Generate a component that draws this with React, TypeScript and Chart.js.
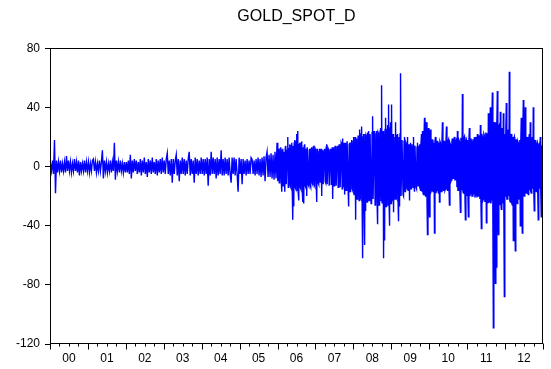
import { useEffect, useRef } from 'react';
import { Chart, registerables } from 'chart.js';

Chart.register(...registerables);

const chartTitle = 'GOLD_SPOT_D';
const years = [2000, 2001, 2002, 2003, 2004, 2005, 2006, 2007, 2008, 2009, 2010, 2011, 2012];
const xLabels = ['00', '01', '02', '03', '04', '05', '06', '07', '08', '09', '10', '11', '12'];
const yTicks = [80, 40, 0, -40, -80, -120];

// Daily changes (per year, spread evenly over that year)
const y2000 = [2, -3, 4, -5, 18, -18, 4, -4, 3, -3, 4, -4, 2, -3, 3, -4, 7, -3, 4, -3, 3, -4, 2, -3, 5, -3, 3, -4, 4, -6, 3, -3, 2, -3, 4, -4, 3, -3];
const y2001 = [3, -4, 2, -3, 4, 5, -3, 3, -4, 2, -3, 4, -3, 3, 11, -8, 4, -3, 3, -4, 2, -3, 4, -4, 3, -3, 16, -9, 4, -3, 3, -4, 4, -3, 2, -4, 3, -4];
const y2002 = [3, -4, 4, -5, 8, -8, 4, -4, 5, -3, 4, -5, 3, -4, 5, -6, 4, -4, 6, -5, 3, -7, 5, -4, 4, -5, 6, -4, 3, -5, 5, -6, 4, -4, 5, -5, 6, -4];
const y2003 = [4, -5, 5, 9, -5, 4, -6, 5, -11, 5, -5, 4, 8, -6, 5, -10, 4, -5, 6, -5, 5, -6, 4, -5, 5, 10, -6, 5, -5, 4, -11, 6, -5, 5, -6, 4, -5, 6];
const y2004 = [-5, 5, -6, 5, -5, 6, -13, 5, -6, 10, -5, 6, -5, 5, -8, 6, -6, 5, -5, 11, -6, 5, -6, 6, -5, 5, -6, 6, -5, -11, 6, -5, 6, -6, 5, -5, -17, 6];
const y2005 = [-5, 5, -12, 5, -5, 4, -6, 5, -5, 4, -5, 6, 5, -5, 4, -6, 5, -5, 6, -6, 5, -7, 6, -6, 7, -10, 6, 10, -7, 8, -7, 9, -8, 8, -9, 10, -8, 16];
const y2006 = [-10, 9, 12, -11, -9, 12, 13, -10, -17, 11, 12, -13, -11, 10, -17, 13, 14, -12, -12, 11,
  20, -14, -13, 12, 15, -13, -14, 14, 16, -15, -36, 14, -27, 16, 18, -14, -15, 17, 22, -16,
  24, -18, -23, 15, 16, -14, -15, 16, 17, -15, -24, 13, -25, 14, 15, -13, -14, 12, -20, 13,
  13, -12, -13, 11, 12, -13, -14, 12, 13, -11, -12, 13, 14, -12, -13, 12];
const y2007 = [11, -10, -24, 12, 10, -11, -12, 10, 12, -11, -11, 12, -20, 10, 11, -12, -12, 11, 12, -10,
  -11, 13, 15, -12, -12, 12, 11, -13, -13, 11, 12, -12, -11, 13, -22, 12, 13, -13, -12, 14,
  12, -13, -13, 13, 14, -14, -12, 15, 13, -14, -14, 16, 15, -15, 19, -14, -14, 16, -19, 15,
  16, -16, -15, 17, 17, -16, -27, 15, 16, -17, -15, 16, 18, -15, -16, 17];
const y2008 = [20, -19, -18, 20, -36, 18, 19, -22, -20, 21, 18, -23, 25, -20, -21, 22, 27, -24, -62, 20,
  22, -25, -53, 22, -30, 21, 20, -24, 23, -22, 24, -23, -18, 22, 22, -25, -24, 23, 34, -22,
  -22, 24, 21, -26, -25, 22, 24, -24, -39, 23, 22, -26, -24, 24, 26, -23, 55, -25, -25, 24,
  -62, 22, -50, 25, 33, -27, -26, 25, 28, -26, 42, -24, -40, 26, 30, -25];
const y2009 = [42, -21, -22, 22, -31, 20, 20, -22, 30, -20, -21, 21, 22, -23, -37, 20, -27, 22, 63, -20,
  -20, 18, 18, -19, -20, 17, 20, -17, -16, 16, 15, -15, 20, -16, -15, 15, -23, 14, 16, -15,
  -14, 15, 15, -14, 20, -13, -17, 14, 14, -14, -15, 13, 16, -13, -12, 14, 15, -14, -16, 16,
  22, -17, 24, -18, -19, 20, 33, -18, -20, 21, 30, -22, -46, 20, 26, -21];
const y2010 = [-34, 18, 25, -17, -16, 18, 18, -17, -17, 16, -45, 17, 20, -18, -16, 17, 17, -16, -18, 16,
  -24, 17, 16, -17, -17, 16, 30, -15, -16, 17, 17, -16, -15, 16, 27, -14, -16, 17, 18, -13,
  -26, 16, 15, -10, -9, 17, 19, -8, -8, 18, 20, -9, -9, 17, 18, -14, 24, -16, -16, 18,
  17, -17, -31, 19, 19, -16, 49, -17, -18, 19, 20, -18, -36, 17, 18, -20];
const y2011 = [18, -19, -34, 18, 26, -20, -18, 19, 17, -20, -20, 18, 18, -19, 20, -21, -19, 20, 18, -21,
  22, -20, -20, 21, 19, -22, 28, -21, -42, 22, 20, -23, -22, 22, 21, -24, -20, 23, -38, 22,
  22, -25, 36, -24, -24, 26, 40, -25, -22, 28, 50, -30, -109, 28, 30, -32, -79, 30, -68, 28,
  51, -30, -46, 27, 28, -26, 37, -25, -29, 24, 26, -25, 36, -26, -88, 22];
const y2012 = [-20, 24, 43, -22, -22, 21, 25, -20, 64, -23, -24, 20, 22, -25, -26, 20, -50, 19, 20, -24,
  -57, 18, 18, -22, -25, 17, 16, -21, -22, 18, -40, 17, 33, -20, -45, 19, 45, -18, -20, 20,
  40, -17, -18, 18, 20, -17, -19, 17, 22, -16, 30, -17, -18, 16, 20, -15, 40, -16, -30, 15,
  18, -16, -17, 15, 16, -17, -36, 14, 15, -15, 20, -16, -34, 13, 14, -15];

const yearSeries = [y2000, y2001, y2002, y2003, y2004, y2005, y2006, y2007, y2008, y2009, y2010, y2011, y2012];

const FONT = "'Liberation Sans', Arial, Helvetica, sans-serif";

export default function App() {
  const ref = useRef<HTMLCanvasElement>(null);

  useEffect(() => {
    document.body.style.margin = '0';
    const canvas = ref.current;
    if (!canvas) return;

    const points: { x: number; y: number }[] = [];
    yearSeries.forEach((vals, yi) => {
      vals.forEach((v, k) => {
        points.push({ x: years[yi] + (k + 0.5) / vals.length, y: v });
      });
    });

    const firstYear = years[0];
    const lastYear = years[years.length - 1] + 1;

    const framePlugin = {
      id: 'frameTicks',
      afterDraw(chart: any) {
        const { ctx, chartArea: a } = chart;
        const xs = chart.scales.x;
        ctx.save();
        ctx.strokeStyle = '#000';
        ctx.lineWidth = 1;
        const l = Math.round(a.left) + 0.5;
        const r = Math.round(a.right) - 0.5;
        const t = Math.round(a.top) + 0.5;
        const b = Math.round(a.bottom) - 0.5;
        ctx.strokeRect(l, t, r - l, b - t);
        for (let yr = firstYear; yr <= lastYear; yr++) {
          for (let q = 0; q < 4; q++) {
            if (yr === lastYear && q > 0) break;
            const px = Math.round(xs.getPixelForValue(yr + q / 4)) + 0.5;
            const len = q === 0 ? 6 : 3;
            ctx.beginPath();
            ctx.moveTo(px, b);
            ctx.lineTo(px, b + len);
            ctx.stroke();
          }
        }
        ctx.restore();
      },
    };

    const chart = new Chart(canvas, {
      type: 'line',
      data: {
        datasets: [
          {
            label: chartTitle,
            data: points,
            borderColor: '#0000FF',
            borderWidth: 1.4,
            pointRadius: 0,
            tension: 0,
            fill: false,
            borderJoinStyle: 'miter',
          },
        ],
      },
      options: {
        animation: false,
        responsive: false,
        layout: { padding: { left: 0, right: 8, top: 0, bottom: 0 } },
        plugins: {
          legend: { display: false },
          tooltip: { enabled: false },
          title: {
            display: true,
            text: chartTitle,
            color: '#000',
            fullSize: false,
            font: { family: FONT, size: 16, weight: 'normal' },
            padding: { top: 7, bottom: 22 },
          },
        },
        scales: {
          x: {
            type: 'linear',
            min: firstYear,
            max: lastYear,
            afterBuildTicks: (s: any) => {
              s.ticks = xLabels.map((_, i) => ({ value: years[i] + 0.5 }));
            },
            afterFit: (s: any) => {
              s.height = 25;
            },
            ticks: {
              autoSkip: false,
              maxRotation: 0,
              color: '#000',
              padding: 7,
              font: { family: FONT, size: 12 },
              callback: (v: any) => xLabels[Math.round(Number(v) - firstYear - 0.5)] ?? '',
            },
            grid: { display: false, drawTicks: false, tickLength: 0 },
            border: { display: false },
          },
          y: {
            type: 'linear',
            min: yTicks[yTicks.length - 1],
            max: yTicks[0],
            afterBuildTicks: (s: any) => {
              s.ticks = yTicks.map((v) => ({ value: v }));
            },
            afterFit: (s: any) => {
              s.width = 50;
            },
            ticks: {
              color: '#000',
              padding: 5,
              font: { family: FONT, size: 12 },
            },
            grid: { drawOnChartArea: false, tickLength: 5, color: '#000' },
            border: { display: false },
          },
        },
      },
      plugins: [framePlugin],
    });

    return () => chart.destroy();
  }, []);

  return (
    <div style={{ width: 551, height: 369 }}>
      <canvas ref={ref} width={551} height={369} />
    </div>
  );
}
